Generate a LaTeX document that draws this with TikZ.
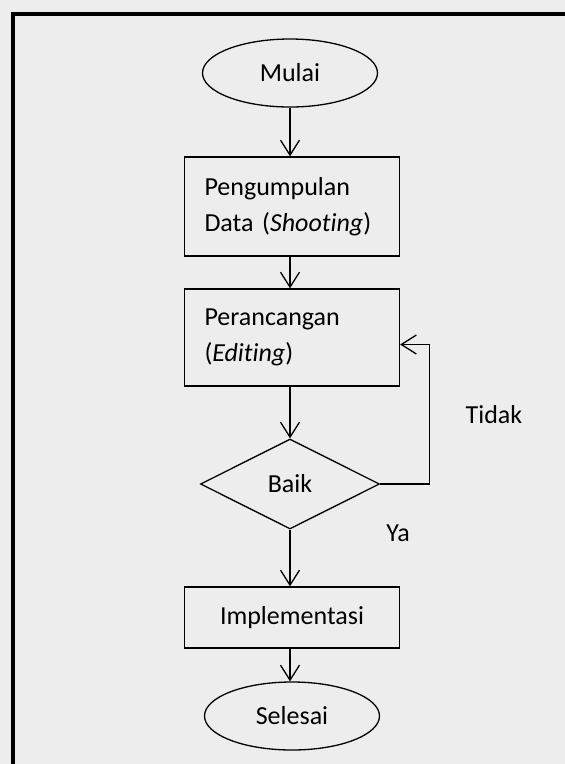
\documentclass[tikz,border=0pt]{standalone}
\usepackage{fontspec}
\setmainfont{Carlito}[Ligatures=NoCommon]
\usetikzlibrary{shapes.geometric,arrows.meta}
\tikzset{
  terminal/.style={draw,ellipse,line width=1.3pt,minimum width=175pt,minimum height=68pt,inner sep=0pt},
  proses/.style={draw,rectangle,line width=1.3pt,minimum width=215pt,align=left,text width=175pt,inner sep=0pt},
  keputusan/.style={draw,diamond,line width=1.3pt,minimum width=179pt,minimum height=90pt,aspect=2,inner sep=0pt},
  panah/.style={line width=1.3pt,-{Straight Barb[length=15pt,width=19pt,line width=1.3pt]}}
}
\begin{document}
\begin{tikzpicture}[x=1pt,y=-1pt,font=\fontsize{26}{36}\selectfont]
  \useasboundingbox (0,0) rectangle (565,764);
  \fill[black!7] (0,0) rectangle (565,764);
  % bingkai
  \draw[line width=4pt] (13,764)--(13,14)--(565,14);
  % alur
  \node[terminal] (mulai) at (290,73) {Mulai};
  \node[proses,minimum height=99pt] (kumpul) at (292,206.5) {Pengumpulan\\Data (\textit{Shooting})};
  \node[proses,minimum height=97pt] (rancang) at (292,337.5) {Perancangan\\(\textit{Editing})};
  \node[keputusan] (baik) at (290,484) {Baik};
  \node[proses,minimum height=61pt,align=center] (impl) at (292,617.5) {Implementasi};
  \node[terminal] (selesai) at (292,716) {Selesai};
  \draw[panah] (mulai.south) -- (mulai.south |- kumpul.north);
  \draw[panah] (mulai |- kumpul.south) -- (mulai |- rancang.north);
  \draw[panah] (mulai |- rancang.south) -- (mulai |- baik.north);
  \draw[panah] (mulai |- baik.south) -- (mulai |- impl.north);
  \draw[panah] (mulai |- impl.south) -- (mulai |- selesai.north);
  \draw[panah] (baik.east) -- ++(49,0) |- ([yshift=-7pt]rancang.east);
  \node (tidak) at (494,415) {Tidak};
  \node (ya) at (398,533) {Ya};
\end{tikzpicture}
\end{document}
